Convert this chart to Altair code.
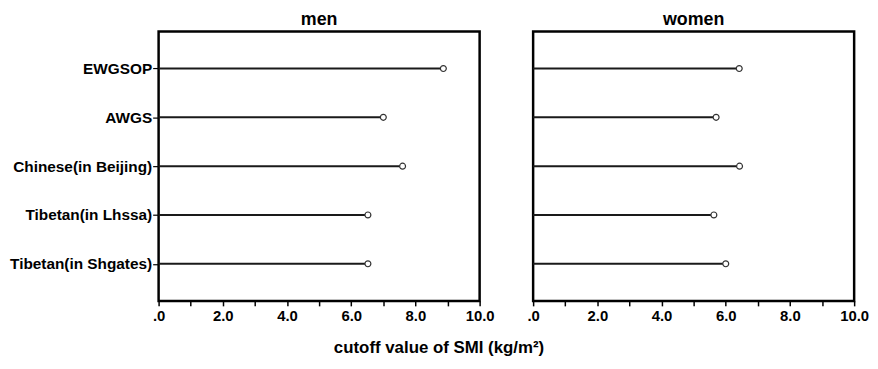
import altair as alt
import pandas as pd

categories = ["EWGSOP", "AWGS", "Chinese(in Beijing)", "Tibetan(in Lhssa)", "Tibetan(in Shgates)"]
men = [8.87, 7.0, 7.6, 6.52, 6.52]
women = [6.42, 5.7, 6.43, 5.63, 6.0]
x_ticks = [0, 1, 2, 3, 4, 5, 6, 7, 8, 9, 10]

rows = []
for c, v in zip(categories, men):
    rows.append({"group": c, "sex": "men", "value": v})
for c, v in zip(categories, women):
    rows.append({"group": c, "sex": "women", "value": v})
df = pd.DataFrame(rows)

FONT = "Liberation Sans"

x_axis = alt.Axis(
    values=x_ticks,
    labelExpr="datum.value % 2 != 0 ? '' : (datum.value == 0 ? '.0' : format(datum.value, '.1f'))",
    title=None,
    grid=False,
    domain=False,
    tickColor="black",
    tickWidth=1.5,
    tickSize=5,
    labelFont=FONT,
    labelFontSize=15,
    labelFontWeight="bold",
    labelColor="black",
    labelPadding=3,
    labelFlush=False,
)

def panel(sex, show_y):
    base = alt.Chart(df[df["sex"] == sex])
    y_enc = alt.Y(
        "group:N",
        sort=categories,
        scale=alt.Scale(type="point", padding=0.76),
        axis=alt.Axis(
            title=None,
            grid=False,
            domain=False,
            labels=show_y,
            ticks=show_y,
            tickSize=6,
            tickColor="black",
            tickWidth=1.2,
            labelFont=FONT,
            labelFontSize=15.5,
            labelFontWeight="bold",
            labelColor="black",
            labelPadding=1,
        ),
    )
    x_enc = alt.X("value:Q", scale=alt.Scale(domain=[0, 10], nice=False), axis=x_axis)
    rules = base.mark_rule(color="#1a1a1a", strokeWidth=2).encode(
        x=alt.X("zero:Q", scale=alt.Scale(domain=[0, 10], nice=False), axis=x_axis),
        x2="value:Q",
        y=y_enc,
    ).transform_calculate(zero="0")
    pts = base.mark_point(shape="circle", filled=False, size=36, color="#333", strokeWidth=1.2, fill="white", fillOpacity=1).encode(
        x=x_enc,
        y=y_enc,
    )
    return alt.layer(rules, pts).properties(
        width=324,
        height=272,
        title=alt.TitleParams(sex, font=FONT, fontSize=18, fontWeight="bold", color="black", offset=2),
    )

chart = alt.hconcat(panel("men", True), panel("women", False), spacing=30).properties(
    title=alt.TitleParams(
        "cutoff value of SMI (kg/m²)",
        orient="bottom",
        anchor="middle",
        font=FONT,
        fontSize=17,
        fontWeight="bold",
        color="black",
        offset=15,
    ),
    background="white",
    padding=0,
).configure_view(stroke="black", strokeWidth=2.5)

chart.save("out.html", embed_options={"renderer": "svg", "actions": False})
